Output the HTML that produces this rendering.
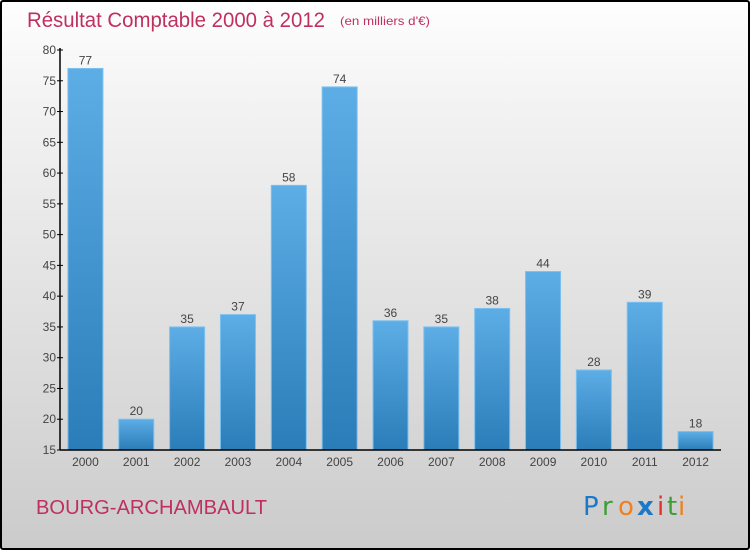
<!DOCTYPE html>
<html><head><meta charset="utf-8"><style>
html,body{margin:0;padding:0}
body{width:750px;height:550px;overflow:hidden;font-family:"Liberation Sans",sans-serif}
#frame{position:absolute;left:0;top:0;width:746px;height:546px;border:2px solid #000;border-radius:3px;background:linear-gradient(#fefefe,#f2f2f2 20%,#d8d8d8 75%,#cbcbcb)}
</style></head><body>
<div id="frame"></div>
<svg width="750" height="550" style="position:absolute;left:0;top:0">
<defs><linearGradient id="bg" x1="0" y1="0" x2="0" y2="1"><stop offset="0" stop-color="#5dade6"/><stop offset="1" stop-color="#2a7db8"/></linearGradient></defs>
<text x="27" y="27" font-size="21" fill="#c0305f" textLength="298" lengthAdjust="spacingAndGlyphs">Résultat Comptable 2000 à 2012</text>
<text x="340" y="25" font-size="12" fill="#c0305f" textLength="90" lengthAdjust="spacingAndGlyphs">(en milliers d'€)</text>
<g id="bars"></g><g id="axes"></g>
<text x="36" y="514" font-size="20" fill="#c0305f" textLength="231" lengthAdjust="spacingAndGlyphs">BOURG-ARCHAMBAULT</text>
<g font-size="26" font-family="DejaVu Sans, sans-serif">
<text x="583" y="515" fill="#1e78c8">P</text><text x="602" y="515" fill="#3aa035">r</text><text x="618" y="515" fill="#f08020">o</text><text x="637" y="515" fill="#1e78c8" font-weight="bold">x</text><text x="657" y="515" fill="#e03030">i</text><text x="667" y="515" fill="#3aa035">t</text><text x="678" y="515" fill="#f08020">i</text></g>
</svg>
<script>
const years=["2000","2001","2002","2003","2004","2005","2006","2007","2008","2009","2010","2011","2012"];
const values=[77,20,35,37,58,74,36,35,38,44,28,39,18];
const yTicks=[15,20,25,30,35,40,45,50,55,60,65,70,75,80];
const NS="http://www.w3.org/2000/svg";
const x0=60,x1=721,yMin=15,yMax=80,yTop=50,yBot=450;
const band=(x1-x0)/years.length;
const xc=i=>x0+band*(i+0.5);
const y=v=>yBot-(v-yMin)/(yMax-yMin)*(yBot-yTop);
function mk(t,a,p){const e=document.createElementNS(NS,t);for(const k in a)e.setAttribute(k,a[k]);p.appendChild(e);return e;}
const gb=document.getElementById('bars'),ga=document.getElementById('axes');
values.forEach((v,i)=>{
 const r=mk('rect',{x:xc(i)-17.5,y:y(v),width:35,height:yBot-y(v),fill:'url(#bg)',stroke:'#7cc0ef','stroke-width':1},gb);
 
 
 const t=mk('text',{x:xc(i),y:y(v)-4,'text-anchor':'middle','font-size':12,fill:'#444'},gb);t.textContent=v;
 
 
 const xl=mk('text',{x:xc(i),y:yBot+16,'text-anchor':'middle','font-size':12,fill:'#444'},ga);xl.textContent=years[i];
 
 
});
const ya=mk('line',{x1:x0,y1:yTop-2,x2:x0,y2:yBot,stroke:'#000','stroke-width':1.5},ga);


const xa=mk('line',{x1:x0,y1:yBot,x2:x1,y2:yBot,stroke:'#000','stroke-width':1.5},ga);


yTicks.forEach(v=>{
 mk('line',{x1:x0-3,y1:y(v),x2:x0+3,y2:y(v),stroke:'#000'},ga);
 const t=mk('text',{x:x0-4,y:y(v)+4,'text-anchor':'end','font-size':12,fill:'#444'},ga);t.textContent=v;
 
 
});
</script>
</body></html>
